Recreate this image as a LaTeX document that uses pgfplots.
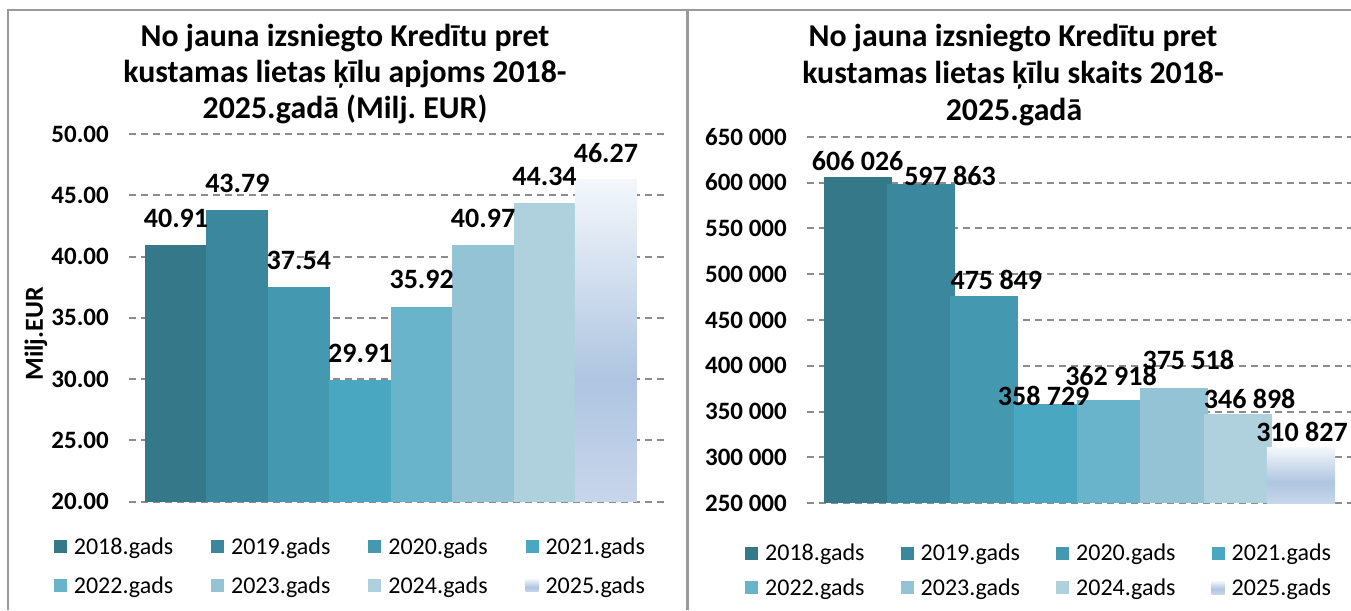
\documentclass[border=0pt]{standalone}
\usepackage{pgfplots}
\pgfplotsset{compat=1.18}
\usepackage{fontspec}
\setmainfont{Carlito}
\frenchspacing
\definecolor{c18}{HTML}{34788A}
\definecolor{c19}{HTML}{3B889E}
\definecolor{c20}{HTML}{4499B1}
\definecolor{c21}{HTML}{4AA7C1}
\definecolor{c22}{HTML}{69B4CB}
\definecolor{c23}{HTML}{93C3D5}
\definecolor{c24}{HTML}{AED1DD}
\definecolor{c25top}{HTML}{F3F7FB}
\definecolor{c25mid}{HTML}{AFC5E1}
\definecolor{c25bot}{HTML}{C8D6EB}
\definecolor{gridc}{HTML}{8C8C8C}
\definecolor{framec}{HTML}{9A9A9A}
\pgfdeclareverticalshading{bar25}{100bp}{color(0bp)=(c25bot); color(25bp)=(c25bot); color(44bp)=(c25mid); color(75bp)=(c25top); color(100bp)=(c25top)}
\pgfplotsset{
  mybar/.style={ybar, bar shift=0pt, fill=#1, draw=none,
     legend image code/.code={\fill[#1] (0pt,-6.5pt) rectangle (13pt,6.5pt);}},
  mybarg/.style={ybar, bar shift=0pt, draw=none, shade, shading=bar25,
     legend image code/.code={\shade[shading=bar25] (0pt,-6.5pt) rectangle (13pt,6.5pt);}},
  lab/.style 2 args={nodes near coords, point meta=explicit symbolic,
     nodes near coords style={anchor=center, xshift=#1, yshift=#2}},
  common/.style={
    scale only axis,
    xtick=\empty,
    axis line style={draw=none},
    major tick length=0pt,
    ymajorgrids,
    grid style={gridc, line width=2pt, dash pattern=on 7pt off 5pt},
    /pgf/number format/assume math mode=true,
    yticklabel style={font=\fontsize{25}{29}\selectfont\bfseries, anchor=east, inner sep=0pt, xshift=-20pt},
    every node near coord/.append style={font=\fontsize{28}{32}\selectfont\bfseries, text=black, inner sep=0pt},
    legend columns=4,
    legend cell align=left,
  },
}
\begin{document}
\begin{tikzpicture}
\clip (0pt,0pt) rectangle (1351pt,610pt);
\fill[white] (0pt,0pt) rectangle (1351pt,610pt);
% frames
\draw[framec, line width=2.2pt] (8pt,0pt) -- (8pt,600.2pt) -- (1352pt,600.2pt);
\draw[framec, line width=2.6pt] (687.5pt,0pt) -- (687.5pt,600.2pt);
% titles
\begin{scope}[every node/.style={font=\fontsize{31.8}{38}\selectfont\bfseries, anchor=base, inner sep=0pt}]
\node at (345pt,563.3pt) {No jauna izsniegto Kredītu pret};
\node at (345pt,527pt) {kustamas lietas ķīlu apjoms 2018-};
\node at (345pt,491.7pt) {2025.gadā (Milj. EUR)};
\node at (1013pt,563pt) {No jauna izsniegto Kredītu pret};
\node at (1013pt,526pt) {kustamas lietas ķīlu skaits 2018-};
\node at (1014pt,489pt) {2025.gadā};
\end{scope}
\node[rotate=90, font=\fontsize{26}{30}\selectfont\bfseries, inner sep=0pt] at (36pt,276pt) {Milj.EUR};

\begin{axis}[common,
  at={(129pt,108.3pt)}, anchor=south west,
  width=539pt, height=367.7pt,
  xmin=-0.765, xmax=8.01, ymin=20, ymax=50,
  ytick={20,25,30,35,40,45,50},
  y tick label style={/pgf/number format/fixed, /pgf/number format/fixed zerofill, /pgf/number format/precision=2},
  legend style={at={(axis description cs:-0.1397,-0.0974)}, anchor=north west, draw=none, fill=none, inner sep=0pt,
    font=\fontsize{24}{28}\selectfont, row sep=20.5pt, nodes={inner sep=0pt},
    /tikz/every odd column/.append style={column sep=7pt},
    /tikz/every even column/.append style={column sep=37.9pt}},
]
\addplot[mybar=c18, bar width=1.01, lab={0pt}{26.7pt}] coordinates {(0,40.91) [40.91]};
\addplot[mybar=c19, bar width=1.01, lab={0pt}{26.7pt}] coordinates {(1,43.79) [43.79]};
\addplot[mybar=c20, bar width=1.01, lab={0pt}{26.7pt}] coordinates {(2,37.54) [37.54]};
\addplot[mybar=c21, bar width=1.01, lab={0pt}{26.7pt}] coordinates {(3,29.91) [29.91]};
\addplot[mybar=c22, bar width=1.01, lab={0pt}{26.7pt}] coordinates {(4,35.92) [35.92]};
\addplot[mybar=c23, bar width=1.01, lab={0pt}{26.7pt}] coordinates {(5,40.97) [40.97]};
\addplot[mybar=c24, bar width=1.01, lab={0pt}{26.7pt}] coordinates {(6,44.34) [44.34]};
\addplot[mybarg, bar width=1.01, lab={0pt}{26.7pt}] coordinates {(7,46.27) [46.27]};
\legend{2018.gads,2019.gads,2020.gads,2021.gads,2022.gads,2023.gads,2024.gads,2025.gads}
\end{axis}

\begin{axis}[common,
  at={(807pt,106.7pt)}, anchor=south west,
  width=544pt, height=366.6pt,
  xmin=-0.80, xmax=7.79, ymin=250000, ymax=650000,
  ytick={250000,300000,350000,400000,450000,500000,550000,600000,650000},
  scaled y ticks=false,
  y tick label style={/pgf/number format/fixed, /pgf/number format/1000 sep={\ }},
  legend style={at={(axis description cs:-0.114,-0.1113)}, anchor=north west, draw=none, fill=none, inner sep=0pt,
    font=\fontsize{24}{28}\selectfont, row sep=16pt, nodes={inner sep=0pt},
    /tikz/every odd column/.append style={column sep=7pt},
    /tikz/every even column/.append style={column sep=36.2pt}},
]
\addplot[mybar=c18, bar width=1.074, lab={0pt}{16.4pt}] coordinates {(0,606026) [606 026]};
\addplot[mybar=c19, bar width=1.074, lab={29pt}{9pt}] coordinates {(1,597863) [597 863]};
\addplot[mybar=c20, bar width=1.074, lab={12pt}{16pt}] coordinates {(2,475849) [475 849]};
\addplot[mybar=c21, bar width=1.074, lab={-4pt}{8pt}] coordinates {(3,358729) [358 729]};
\addplot[mybar=c22, bar width=1.074, lab={0pt}{23.5pt}] coordinates {(4,362918) [362 918]};
\addplot[mybar=c23, bar width=1.074, lab={14pt}{28pt}] coordinates {(5,375518) [375 518]};
\addplot[mybar=c24, bar width=1.074, lab={12pt}{15.5pt}] coordinates {(6,346898) [346 898]};
\addplot[mybarg, bar width=1.074, lab={1pt}{15.7pt}] coordinates {(7,310827) [310 827]};
\legend{2018.gads,2019.gads,2020.gads,2021.gads,2022.gads,2023.gads,2024.gads,2025.gads}
\end{axis}
\end{tikzpicture}
\end{document}
